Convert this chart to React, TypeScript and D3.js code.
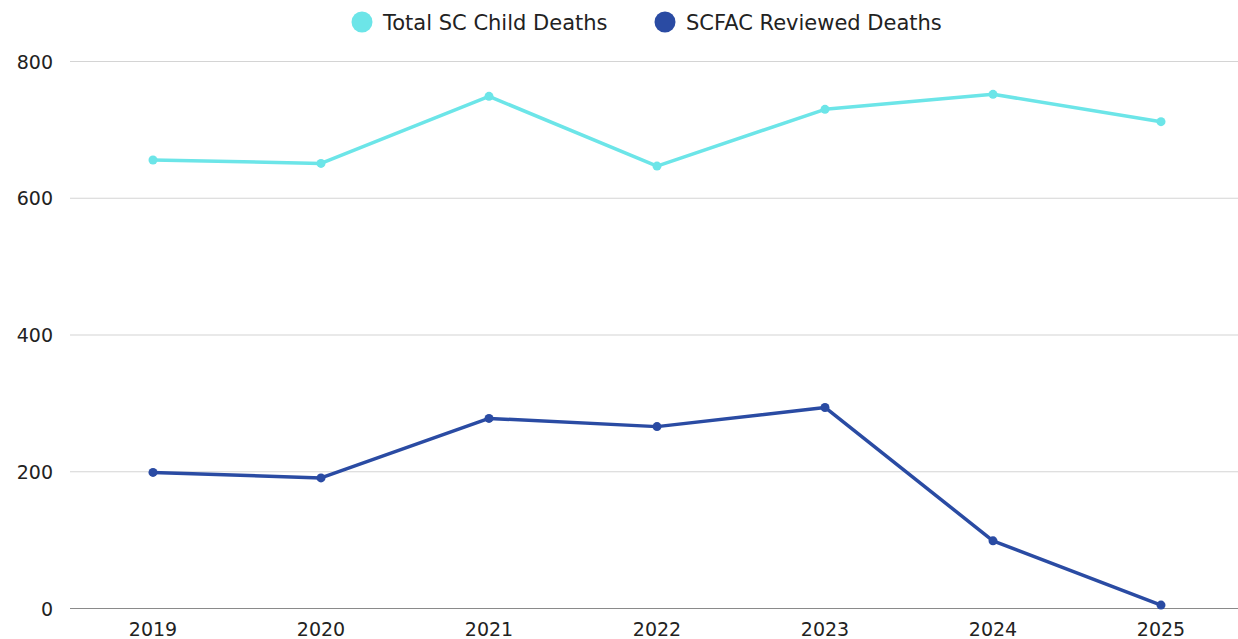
import React from "react";
import * as d3 from "d3";

// Annual counts of child deaths in South Carolina vs. those reviewed by SCFAC
const years = ["2019", "2020", "2021", "2022", "2023", "2024", "2025"];
const totalDeaths = [656, 651, 749, 647, 730, 752, 712];
const reviewedDeaths = [199, 191, 278, 266, 294, 99, 5];
const yTicks = [0, 200, 400, 600, 800];

const seriesNames = ["Total SC Child Deaths", "SCFAC Reviewed Deaths"];
const seriesColors = ["#6ce5e8", "#2a4ba3"];

const W = 1238;
const H = 639;
const FONT = "'DejaVu Sans', 'Open Sans', sans-serif";

export default function App() {
  const left = 70;
  const right = 1238;
  const x = d3
    .scalePoint<string>()
    .domain(years)
    .range([left + 83, left + 83 + 168 * (years.length - 1)]);
  const y = d3.scaleLinear().domain([0, 800]).range([608.5, 61.5]);

  const line = d3
    .line<number>()
    .x((_, i) => x(years[i]) as number)
    .y((d) => y(d));

  const series = [totalDeaths, reviewedDeaths];

  const legend = [
    { cx: 362, tx: 383 },
    { cx: 665, tx: 686 },
  ];

  return (
    <svg
      width={W}
      height={H}
      style={{ position: "fixed", left: 0, top: 0, background: "#fff" }}
      fontFamily={FONT}
    >
      {/* legend */}
      {seriesNames.map((name, i) => (
        <g key={name}>
          <circle cx={legend[i].cx} cy={22} r={10.5} fill={seriesColors[i]} />
          <text x={legend[i].tx} y={30} fontSize={21} fill="#222">
            {name}
          </text>
        </g>
      ))}

      {/* gridlines and y ticks */}
      {yTicks.map((t) => (
        <g key={t}>
          <line
            x1={left}
            x2={right}
            y1={y(t)}
            y2={y(t)}
            stroke={t === 0 ? "#8a8a8a" : "#d4d4d4"}
            strokeWidth={1.2}
          />
          <text
            x={53}
            y={y(t) + 7}
            textAnchor="end"
            fontSize={19}
            fill="#222"
          >
            {t}
          </text>
        </g>
      ))}

      {/* x labels */}
      {years.map((yr) => (
        <text
          key={yr}
          x={x(yr) as number}
          y={636}
          textAnchor="middle"
          fontSize={19}
          fill="#222"
        >
          {yr}
        </text>
      ))}

      {/* lines and markers */}
      {series.map((vals, si) => (
        <g key={si}>
          <path
            d={line(vals) as string}
            fill="none"
            stroke={seriesColors[si]}
            strokeWidth={3.5}
            strokeLinejoin="round"
          />
          {vals.map((v, i) => (
            <circle
              key={i}
              cx={x(years[i]) as number}
              cy={y(v)}
              r={4.5}
              fill={seriesColors[si]}
            />
          ))}
        </g>
      ))}
    </svg>
  );
}
